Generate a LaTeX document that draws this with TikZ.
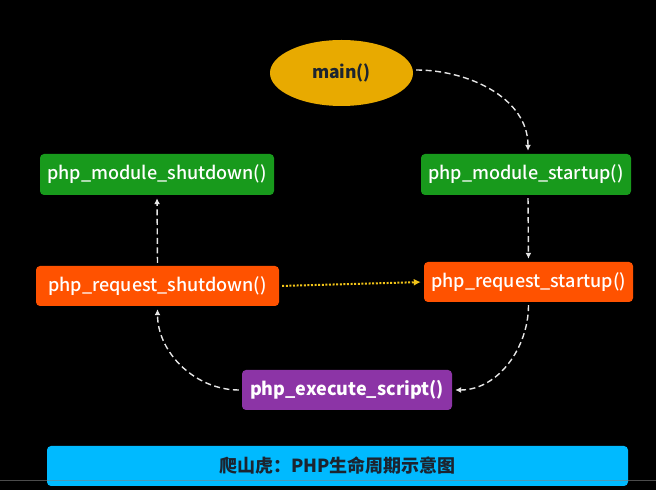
\documentclass[tikz,border=0pt]{standalone}
\usepackage{fontspec}
\setmainfont{Noto Sans CJK SC}
\newfontfamily\medfont{Noto Sans CJK SC Medium}
\usetikzlibrary{arrows.meta,shapes.geometric}
\definecolor{bggreen}{HTML}{189A1C}
\definecolor{bgorange}{HTML}{FF5200}
\definecolor{bgpurple}{HTML}{8C34A6}
\definecolor{bgyellow}{HTML}{E8AA00}
\definecolor{bgblue}{HTML}{00BAFF}
\definecolor{arrowwhite}{HTML}{E6E6E6}
\definecolor{dotyellow}{HTML}{F2C418}
\definecolor{darktext}{HTML}{1C2430}
\tikzset{
  fbox/.style={rounded corners=4pt, inner sep=0pt, text=white, font=\medfont\fontsize{18}{20}\selectfont},
  flow/.style={draw=arrowwhite, line width=1.4pt, dash pattern=on 6pt off 3.5pt, -{Latex[length=6pt,width=6pt]}, shorten >=3pt, shorten <=3pt},
  dotflow/.style={draw=dotyellow, line width=2pt, dash pattern=on 2pt off 1.6pt, -{Latex[length=7pt,width=7pt]}, shorten >=3pt, shorten <=3pt}
}
\begin{document}
\begin{tikzpicture}[x=1pt,y=1pt]
\fill[black] (0,0) rectangle (656,490);
\useasboundingbox (0,0) rectangle (656,490);
\node[ellipse, fill=bgyellow, minimum width=143pt, minimum height=66pt, inner sep=0pt, text=darktext, font=\fontsize{17.5}{20}\selectfont\bfseries] (main) at (341.5,417) {main()};
\node[fbox, fill=bggreen, minimum width=210pt, minimum height=41pt] (mstart) at (526,315.5) {php\_module\_startup()};
\node[fbox, fill=bggreen, minimum width=234pt, minimum height=41pt] (mshut) at (157,315.5) {php\_module\_shutdown()};
\node[fbox, fill=bgorange, minimum width=243pt, minimum height=40pt] (rshut) at (157.5,204) {php\_request\_shutdown()};
\node[fbox, fill=bgorange, minimum width=209pt, minimum height=40pt] (rstart) at (528.5,208) {php\_request\_startup()};
\node[fbox, fill=bgpurple, minimum width=210pt, minimum height=40pt, font=\fontsize{18}{20}\selectfont\bfseries] (exec) at (347,100) {php\_execute\_script()};
\node[rounded corners=4pt, fill=bgblue, minimum width=581pt, minimum height=40pt, inner sep=0pt, text=darktext, font=\fontsize{18}{20}\selectfont\bfseries] (banner) at (337.5,24) {爬山虎：PHP生命周期示意图};
\draw[flow] ([yshift=3pt]main.east) to[out=0,in=90] ([xshift=2pt]mstart.north);
\draw[flow] ([xshift=2pt]mstart.south) -- ([xshift=0pt]rstart.north);
\draw[flow] (rstart.south) to[out=-90,in=0] (exec.east);
\draw[flow] (exec.west) to[out=180,in=-90] (rshut.south);
\draw[flow] (rshut.north) -- (mshut.south);
\draw[dotflow] (rshut.east) -- (rstart.west);
\draw[gray, opacity=0.6, line width=1pt] (0,9) -- (656,9);
\end{tikzpicture}
\end{document}
